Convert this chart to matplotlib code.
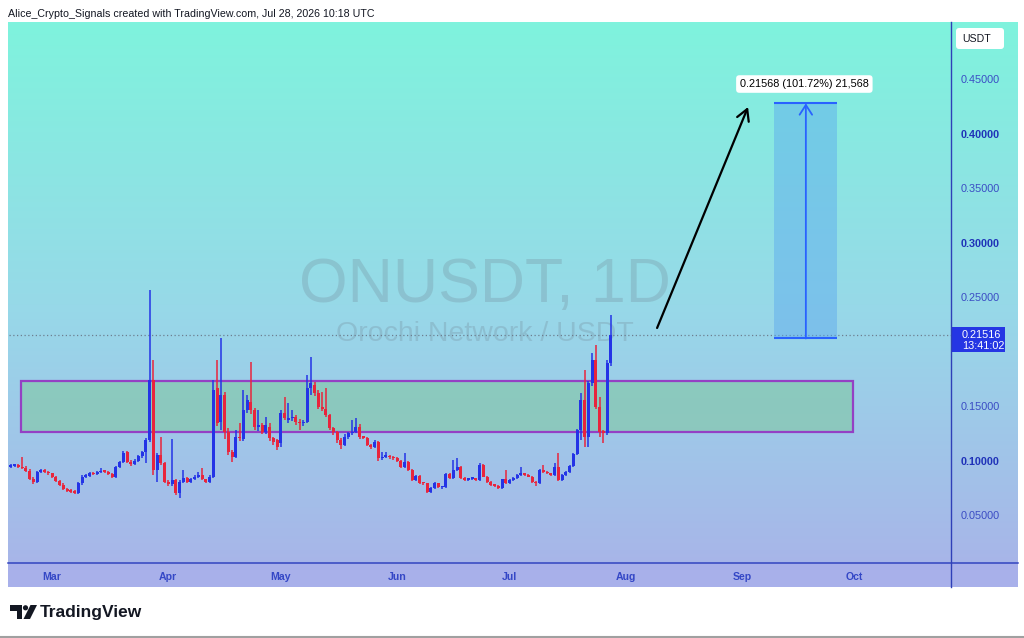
import matplotlib.pyplot as plt
import matplotlib.dates as mdates
from matplotlib.colors import LinearSegmentedColormap
from matplotlib.patches import Rectangle, FancyBboxPatch, Polygon, Circle
from matplotlib.transforms import Affine2D
import numpy as np
import pandas as pd

plt.rcParams['font.family'] = ['Liberation Sans', 'DejaVu Sans']

# daily candles, first one on Feb 18 2026
start_date = '2026-02-18'
opens = [0.0945, 0.0952, 0.0956, 0.0944, 0.0930, 0.0908, 0.0830, 0.0800, 0.0895, 0.0913,
         0.0897, 0.0882, 0.0851, 0.0810, 0.0780, 0.0742, 0.0725, 0.0714, 0.0706, 0.0791,
         0.0851, 0.0862, 0.0884, 0.0874, 0.0893, 0.0908, 0.0895, 0.0880, 0.0848, 0.0940,
         0.0990, 0.1075, 0.0990, 0.0972, 0.1000, 0.1040, 0.1080, 0.1190, 0.1740, 0.0913,
         0.1050, 0.0975, 0.0806, 0.0785, 0.0820, 0.0700, 0.0806, 0.0837, 0.0806, 0.0830,
         0.0850, 0.0870, 0.0828, 0.0806, 0.0852, 0.1662, 0.1356, 0.1600, 0.1264, 0.1080,
         0.1035, 0.1219, 0.1195, 0.1463, 0.1540, 0.1460, 0.1310, 0.1326, 0.1265, 0.1310,
         0.1204, 0.1188, 0.1158, 0.1433, 0.1370, 0.1387, 0.1402, 0.1356, 0.1340, 0.1356,
         0.1662, 0.1693, 0.1616, 0.1494, 0.1470, 0.1417, 0.1295, 0.1265, 0.1188, 0.1142,
         0.1219, 0.1250, 0.1265, 0.1310, 0.1219, 0.1210, 0.1142, 0.1127, 0.1173, 0.1020,
         0.1035, 0.1041, 0.1029, 0.1020, 0.0998, 0.0943, 0.0989, 0.0913, 0.0821, 0.0858,
         0.0797, 0.0791, 0.0714, 0.0745, 0.0791, 0.0754, 0.0760, 0.0876, 0.0837, 0.0913,
         0.0943, 0.0837, 0.0821, 0.0830, 0.0834, 0.0822, 0.0959, 0.0851, 0.0806, 0.0775,
         0.0766, 0.0745, 0.0827, 0.0791, 0.0821, 0.0837, 0.0867, 0.0882, 0.0867, 0.0851,
         0.0806, 0.0791, 0.0913, 0.0897, 0.0882, 0.0867, 0.0943, 0.0821, 0.0867, 0.0897,
         0.0950, 0.1060, 0.1280, 0.1555, 0.1219, 0.1708, 0.1922, 0.1494, 0.1265, 0.1255,
         0.1892]
highs = [0.0972, 0.0968, 0.0966, 0.1035, 0.0948, 0.0922, 0.0848, 0.0905, 0.0925, 0.0920,
         0.0902, 0.0888, 0.0860, 0.0820, 0.0790, 0.0750, 0.0738, 0.0728, 0.0802, 0.0868,
         0.0878, 0.0895, 0.0893, 0.0902, 0.0928, 0.0915, 0.0900, 0.0886, 0.0950, 0.1000,
         0.1090, 0.1088, 0.1002, 0.1010, 0.1050, 0.1090, 0.1210, 0.2560, 0.1920, 0.1070,
         0.1220, 0.0990, 0.0820, 0.1200, 0.0830, 0.0820, 0.0913, 0.0850, 0.0840, 0.0870,
         0.0897, 0.0928, 0.0835, 0.0870, 0.1740, 0.1920, 0.2120, 0.1630, 0.1300, 0.1100,
         0.1280, 0.1340, 0.1647, 0.1601, 0.1906, 0.1480, 0.1463, 0.1340, 0.1402, 0.1340,
         0.1215, 0.1195, 0.1460, 0.1586, 0.1525, 0.1463, 0.1420, 0.1380, 0.1370, 0.1784,
         0.1953, 0.1720, 0.1650, 0.1630, 0.1662, 0.1430, 0.1310, 0.1275, 0.1204, 0.1240,
         0.1265, 0.1372, 0.1387, 0.1335, 0.1228, 0.1220, 0.1150, 0.1190, 0.1180, 0.1081,
         0.1081, 0.1050, 0.1038, 0.1028, 0.1005, 0.1072, 0.1000, 0.0920, 0.0870, 0.0865,
         0.0805, 0.0798, 0.0760, 0.0800, 0.0798, 0.0770, 0.0885, 0.0882, 0.1005, 0.1020,
         0.0950, 0.0845, 0.0840, 0.0842, 0.0840, 0.0975, 0.0968, 0.0858, 0.0812, 0.0782,
         0.0772, 0.0835, 0.0913, 0.0830, 0.0845, 0.0875, 0.0943, 0.0890, 0.0874, 0.0858,
         0.0812, 0.0920, 0.0959, 0.0905, 0.0890, 0.0974, 0.1066, 0.0875, 0.0905, 0.0960,
         0.1070, 0.1290, 0.1616, 0.1830, 0.1730, 0.1983, 0.2060, 0.1586, 0.1280, 0.1920,
         0.2335]
lows = [0.0935, 0.0938, 0.0930, 0.0920, 0.0898, 0.0818, 0.0782, 0.0790, 0.0888, 0.0886,
        0.0870, 0.0838, 0.0800, 0.0770, 0.0728, 0.0712, 0.0702, 0.0694, 0.0696, 0.0780,
        0.0836, 0.0850, 0.0866, 0.0868, 0.0885, 0.0886, 0.0868, 0.0836, 0.0840, 0.0930,
        0.0978, 0.0980, 0.0950, 0.0962, 0.0990, 0.1020, 0.0980, 0.1170, 0.0870, 0.0806,
        0.0960, 0.0790, 0.0762, 0.0770, 0.0680, 0.0653, 0.0795, 0.0790, 0.0790, 0.0820,
        0.0840, 0.0820, 0.0790, 0.0790, 0.0840, 0.1320, 0.1280, 0.1200, 0.1050, 0.0990,
        0.1020, 0.1180, 0.1180, 0.1440, 0.1430, 0.1280, 0.1270, 0.1240, 0.1240, 0.1180,
        0.1142, 0.1100, 0.1120, 0.1370, 0.1340, 0.1360, 0.1330, 0.1280, 0.1320, 0.1340,
        0.1600, 0.1590, 0.1470, 0.1450, 0.1400, 0.1280, 0.1230, 0.1160, 0.1110, 0.1130,
        0.1200, 0.1235, 0.1250, 0.1200, 0.1195, 0.1130, 0.1110, 0.1115, 0.1000, 0.1005,
        0.1020, 0.1015, 0.1005, 0.0985, 0.0930, 0.0935, 0.0900, 0.0810, 0.0812, 0.0785,
        0.0780, 0.0700, 0.0705, 0.0738, 0.0745, 0.0742, 0.0752, 0.0828, 0.0830, 0.0905,
        0.0828, 0.0812, 0.0815, 0.0820, 0.0815, 0.0815, 0.0845, 0.0798, 0.0768, 0.0758,
        0.0738, 0.0740, 0.0785, 0.0785, 0.0815, 0.0830, 0.0860, 0.0860, 0.0845, 0.0798,
        0.0770, 0.0785, 0.0890, 0.0875, 0.0860, 0.0860, 0.0812, 0.0815, 0.0860, 0.0890,
        0.0940, 0.1050, 0.1188, 0.1127, 0.1127, 0.1680, 0.1470, 0.1220, 0.1158, 0.1234,
        0.1870]
closes = [0.0952, 0.0956, 0.0944, 0.0930, 0.0908, 0.0830, 0.0800, 0.0895, 0.0913, 0.0897,
          0.0882, 0.0851, 0.0810, 0.0780, 0.0742, 0.0725, 0.0714, 0.0706, 0.0791, 0.0851,
          0.0862, 0.0884, 0.0874, 0.0893, 0.0908, 0.0895, 0.0880, 0.0848, 0.0940, 0.0990,
          0.1072, 0.0990, 0.0972, 0.1000, 0.1040, 0.1080, 0.1190, 0.1740, 0.0913, 0.1050,
          0.0975, 0.0806, 0.0785, 0.0820, 0.0700, 0.0806, 0.0837, 0.0806, 0.0830, 0.0850,
          0.0870, 0.0828, 0.0806, 0.0852, 0.1647, 0.1340, 0.1600, 0.1264, 0.1080, 0.1035,
          0.1219, 0.1204, 0.1463, 0.1555, 0.1460, 0.1310, 0.1326, 0.1265, 0.1326, 0.1204,
          0.1173, 0.1127, 0.1433, 0.1387, 0.1387, 0.1402, 0.1356, 0.1340, 0.1356, 0.1662,
          0.1708, 0.1616, 0.1494, 0.1470, 0.1417, 0.1295, 0.1265, 0.1188, 0.1142, 0.1219,
          0.1250, 0.1265, 0.1310, 0.1219, 0.1210, 0.1142, 0.1127, 0.1173, 0.1020, 0.1035,
          0.1041, 0.1029, 0.1020, 0.0998, 0.0943, 0.0989, 0.0913, 0.0821, 0.0858, 0.0797,
          0.0791, 0.0714, 0.0745, 0.0791, 0.0754, 0.0760, 0.0876, 0.0837, 0.0913, 0.0943,
          0.0837, 0.0821, 0.0830, 0.0834, 0.0822, 0.0959, 0.0851, 0.0806, 0.0775, 0.0766,
          0.0745, 0.0827, 0.0791, 0.0821, 0.0837, 0.0867, 0.0882, 0.0867, 0.0851, 0.0806,
          0.0791, 0.0913, 0.0897, 0.0882, 0.0867, 0.0943, 0.0821, 0.0867, 0.0897, 0.0950,
          0.1060, 0.1280, 0.1555, 0.1219, 0.1708, 0.1922, 0.1494, 0.1265, 0.1255, 0.1892,
          0.21516]
dates = pd.date_range(start_date, periods=len(closes), freq='D')

# 0.20000 sits under the last price tag, so it is not listed
price_ticks = [0.05, 0.10, 0.15, 0.25, 0.30, 0.35, 0.40, 0.45]
bold_ticks = [0.10, 0.30, 0.40]
month_starts = ['2026-03-01', '2026-04-01', '2026-05-01', '2026-06-01',
                '2026-07-01', '2026-08-01', '2026-09-01', '2026-10-01']
month_labels = ['Mar', 'Apr', 'May', 'Jun', 'Jul', 'Aug', 'Sep', 'Oct']
last_price = 0.21516
countdown = '13:41:02'

zone_start, zone_end = '2026-02-20 18:00', '2026-09-30 14:00'
zone_low, zone_high = 0.1261, 0.1729
target_start, target_end = '2026-09-09 14:00', '2026-09-26 10:00'
target_low, target_high = 0.2120, 0.4277
target_label = '0.21568 (101.72%) 21,568'
arrow_start = ('2026-08-09 08:00', 0.2216)
arrow_end = ('2026-09-02 14:00', 0.4243)

up_color = '#2434e6'
down_color = '#e8253c'

W, H = 1024, 638
fig = plt.figure(figsize=(W / 100, H / 100), dpi=100)
fig.patch.set_facecolor('white')
px = Affine2D().scale(1 / W, -1 / H).translate(0, 1) + fig.transFigure


def fbox(x0, y0, x1, y1):
    return [x0 / W, 1 - y1 / H, (x1 - x0) / W, (y1 - y0) / H]


# gradient background of the chart frame
bg = fig.add_axes(fbox(8, 22, 1018, 587))
bg.set_zorder(-3)
cmap = LinearSegmentedColormap.from_list('bg', ['#7ff3dd', '#97d9e8', '#a9b2e9'])
bg.imshow(np.linspace(0, 1, 256)[:, None], cmap=cmap, aspect='auto', extent=(0, 1, 0, 1))
bg.set_axis_off()
# time scale strip
bg.add_patch(Rectangle((0, 0), 1, 24 / 565, transform=bg.transAxes,
                       facecolor='#a8b0ea', edgecolor='none', zorder=5))

ax = fig.add_axes(fbox(9, 22, 951, 563))
ax.patch.set_alpha(0)
for s in ax.spines.values():
    s.set_visible(False)

d0 = mdates.date2num(pd.Timestamp('2026-03-01'))
ax.set_xlim(d0 - 11.47, d0 + 239.7)
ax.set_ylim(0.006, 0.5023)

# watermark
ax.text(0.5055, 0.513, 'ONUSDT, 1D', transform=ax.transAxes, ha='center', va='center',
        fontsize=45, color='#6c7d8c', alpha=0.25)
ax.text(0.5055, 0.424, 'Orochi Network / USDT', transform=ax.transAxes, ha='center',
        va='center', fontsize=20.5, color='#6c7d8c', alpha=0.25)

# support zone
zs, ze = mdates.date2num(pd.Timestamp(zone_start)), mdates.date2num(pd.Timestamp(zone_end))
ax.add_patch(Rectangle((zs, zone_low), ze - zs, zone_high - zone_low,
                       facecolor='#86c8b0', alpha=0.75, edgecolor='none', zorder=1))
ax.add_patch(Rectangle((zs, zone_low), ze - zs, zone_high - zone_low,
                       facecolor='none', edgecolor='#9440c4', lw=1.6, zorder=1.5))

# candles
x = mdates.date2num(dates)
o, h, l, c = (np.array(v) for v in (opens, highs, lows, closes))
col = np.where(c >= o, up_color, down_color)
ax.vlines(x, l, h, colors=col, lw=1.1, zorder=3)
ax.bar(x, np.maximum(np.abs(c - o), 0.0015), bottom=np.minimum(o, c), width=0.8,
       color=col, lw=0, zorder=4)

# last price line
ax.axhline(last_price, color='#6d7f90', lw=0.9, ls=(0, (1, 2)), zorder=2)

# target projection
ts, te = mdates.date2num(pd.Timestamp(target_start)), mdates.date2num(pd.Timestamp(target_end))
ax.add_patch(Rectangle((ts, target_low), te - ts, target_high - target_low,
                       facecolor='#5aa7ee', alpha=0.45, edgecolor='none', zorder=2))
ax.hlines([target_low, target_high], ts, te, colors='#2962ff', lw=1.5, zorder=3)
tm = (ts + te) / 2
ax.annotate('', xy=(tm, target_high), xytext=(tm, target_low),
            arrowprops=dict(arrowstyle='->,head_length=0.7,head_width=0.45',
                            color='#2962ff', lw=1.3, shrinkA=0, shrinkB=0), zorder=4)
ax.text(tm - 0.4, 0.4454, target_label, ha='center', va='center', fontsize=7.8, zorder=6,
        bbox=dict(boxstyle='round,pad=0.35,rounding_size=0.3', fc='white', ec='none'))

# black arrow
a0 = (mdates.date2num(pd.Timestamp(arrow_start[0])), arrow_start[1])
a1 = (mdates.date2num(pd.Timestamp(arrow_end[0])), arrow_end[1])
ax.annotate('', xy=a1, xytext=a0,
            arrowprops=dict(arrowstyle='->,head_length=0.8,head_width=0.45',
                            color='black', lw=1.6, shrinkA=0, shrinkB=0), zorder=5)

# axes ticks
ax.yaxis.tick_right()
ax.set_yticks(price_ticks)
ax.set_yticklabels([f'{v:.5f}' for v in price_ticks])
ax.tick_params(axis='y', length=0, pad=7.2, labelsize=7.8, labelcolor='#3a4cc4')
for t, v in zip(ax.get_yticklabels(), price_ticks):
    if v in bold_ticks:
        t.set_fontweight('bold')
        t.set_color('#1f32b8')
ax.set_xticks(mdates.date2num(pd.to_datetime(month_starts)))
ax.set_xticklabels(month_labels, fontweight='bold')
ax.tick_params(axis='x', length=0, pad=6.5, labelsize=7.6, labelcolor='#3447c6')

# last price tag on the price scale
ytr = ax.get_yaxis_transform()
ax.add_patch(Rectangle((1.001, last_price - 0.0155), 0.0563, 0.0229, transform=ytr,
                       facecolor='#2536e4', edgecolor='none', clip_on=False, zorder=10))
ax.text(1.0115, last_price + 0.0002, f'{last_price:.5f}', transform=ytr, color='white',
        fontsize=7.8, va='center', clip_on=False, zorder=11)
ax.text(1.0115, last_price - 0.0103, countdown, transform=ytr, color='white',
        fontsize=7.8, va='center', clip_on=False, zorder=11)

# frame lines
fig.add_artist(plt.Line2D([8, 1018], [563, 563], transform=px, color='#3244c0', lw=1.1))
fig.add_artist(plt.Line2D([951, 951], [22, 587], transform=px, color='#2f40b8', lw=1.0))
fig.add_artist(plt.Line2D([0, 1024], [636.5, 636.5], transform=px, color='#a0a0a0', lw=1.5))

# currency box
fig.add_artist(FancyBboxPatch((956, 28), 48, 21, boxstyle='round,pad=0,rounding_size=3',
                              transform=px, facecolor='white', edgecolor='none'))
fig.text(962 / W, 1 - 38.5 / H, 'USDT', fontsize=7.6, va='center', color='#131722')

# header
fig.text(8 / W, 1 - 14 / H, 'Alice_Crypto_Signals created with TradingView.com, '
         'Jul 28, 2026 10:18 UTC', fontsize=7.7, va='center', color='#131722')

# TradingView logo
fig.add_artist(Polygon([(10, 605), (22, 605), (22, 619), (16.5, 619), (16.5, 610.5), (10, 610.5)],
                       closed=True, transform=px, facecolor='#131722', edgecolor='none'))
fig.add_artist(Circle((25.5, 607.8), 2.6, transform=px, facecolor='#131722', edgecolor='none'))
fig.add_artist(Polygon([(30.5, 605), (37, 605), (30, 619), (23.5, 619)], closed=True,
                       transform=px, facecolor='#131722', edgecolor='none'))
fig.text(40 / W, 1 - 612 / H, 'TradingView', fontsize=12.5, fontweight='bold',
         va='center', color='#131722')

fig.savefig('out.png', dpi=100)
